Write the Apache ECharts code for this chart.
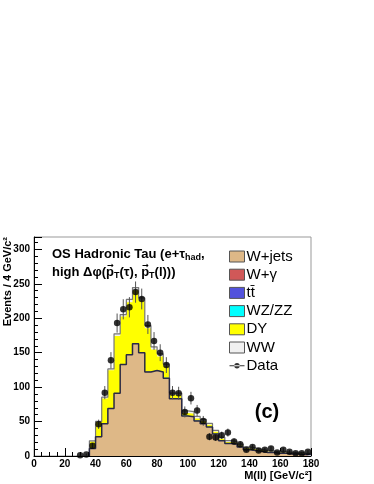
<!DOCTYPE html>
<html>
<head>
<meta charset="utf-8">
<script src="https://cdn.jsdelivr.net/npm/echarts@6/dist/echarts.min.js"></script>
<style>
html, body { margin: 0; padding: 0; background: #fff; }
#chart { width: 374px; height: 484px; }
</style>
</head>
<body>
<div id="chart"></div>
<script>
// histogram bins: left edges, 4 GeV wide
var binWidth = 4;
var binEdges = [36, 40, 44, 48, 52, 56, 60, 64, 68, 72, 76, 80, 84, 88, 92, 96, 100, 104, 108, 112,
	116, 120, 124, 128, 132, 136, 140, 144, 148, 152, 156, 160, 164, 168, 172, 176];

// MC components (events per bin)
var wjets = [11, 28, 47, 69, 91, 133, 147, 163, 150, 122, 124, 122, 113, 83, 83, 58, 57, 51, 47, 42,
	32, 22, 18, 17, 13, 9, 8, 7, 5, 5, 4, 4, 3, 3, 2, 2];
var wgamma = [0.1, 0.1, 0.2, 0.2, 0.2, 0.2, 0.2, 0.2, 0.2, 0.2, 0.2, 0.2, 0.2, 0.1, 0.1, 0.1, 0.1, 0.1, 0.1, 0.1,
	0.1, 0.1, 0.1, 0.1, 0.1, 0.1, 0.1, 0.1, 0.1, 0.1, 0.1, 0.1, 0.1, 0.1, 0.1, 0.1];
var ttbar = [0, 0.1, 0.1, 0.1, 0.1, 0.1, 0.1, 0.2, 0.2, 0.2, 0.2, 0.2, 0.2, 0.2, 0.2, 0.2, 0.2, 0.2, 0.1, 0.1,
	0.1, 0.1, 0.1, 0.1, 0.1, 0.1, 0.1, 0.1, 0.1, 0.1, 0.1, 0.1, 0.1, 0.1, 0.1, 0.1];
var wzzz = [0, 0, 0.1, 0.1, 0.1, 0.1, 0.1, 0.1, 0.1, 0.1, 0.1, 0.1, 0.1, 0.1, 0.1, 0.1, 0.1, 0.1, 0.1, 0.1,
	0, 0, 0, 0, 0, 0, 0, 0, 0, 0, 0, 0, 0, 0, 0, 0];
var dy = [10, 21, 36, 55, 83, 69, 76, 77, 75, 63, 30, 22, 17, 5, 5, 4, 4, 3, 3, 3,
	3, 3, 2, 2, 2, 2, 1.5, 1.5, 1.5, 1, 1, 1, 1, 1, 1, 0.5];
var ww = [1, 1, 2, 2, 3, 3, 4, 4, 4, 4, 4, 4, 3, 3, 3, 3, 3, 3, 3, 2,
	2, 2, 2, 2, 2, 2, 2, 1, 1, 1, 1, 1, 1, 1, 1, 1];

// data points (bin centres)
var dataX = [30, 34, 38, 42, 46, 50, 54, 58, 62, 66, 70, 74, 78, 82, 86, 90, 94, 98, 102, 106,
	110, 114, 118, 122, 126, 130, 134, 138, 142, 146, 150, 154, 158, 162, 166, 170, 174, 178];
var dataY = [1, 2, 15, 46, 92, 139, 193, 213, 216, 238, 228, 191, 167, 150, 132, 92, 91, 64, 84, 66,
	51, 28, 27, 30, 34, 21, 17, 9, 13, 8, 9, 11, 5, 9, 6, 4, 4, 6];

var xTicks = [0, 20, 40, 60, 80, 100, 120, 140, 160, 180];
var yTicks = [0, 50, 100, 150, 200, 250, 300];

var FONT = 'Liberation Sans';

// stack the components the way ROOT's THStack does
function addUp(parts) {
	var out = [];
	for (var i = 0; i < binEdges.length; i++) {
		var s = 0;
		for (var k = 0; k < parts.length; k++) s += parts[k][i];
		out.push(s);
	}
	return out;
}
function steps(vals) {
	var pts = [[binEdges[0], 0]];
	for (var i = 0; i < vals.length; i++) pts.push([binEdges[i], vals[i]]);
	pts.push([binEdges[vals.length - 1] + binWidth, vals[vals.length - 1]]);
	return pts;
}
function histSeries(name, vals, fill, line, lw) {
	return {
		name: name,
		type: 'line',
		step: 'end',
		symbol: 'none',
		color: fill,
		data: steps(vals),
		lineStyle: { color: line, width: lw },
		areaStyle: { color: fill, opacity: 1, origin: 'start' },
		silent: true
	};
}

var cumW = wjets;
var cumWg = addUp([wjets, wgamma]);
var cumTt = addUp([wjets, wgamma, ttbar]);
var cumWz = addUp([wjets, wgamma, ttbar, wzzz]);
var cumDy = addUp([wjets, wgamma, ttbar, wzzz, dy]);
var cumWw = addUp([wjets, wgamma, ttbar, wzzz, dy, ww]);

var points = [];
for (var i = 0; i < dataX.length; i++) points.push([dataX[i], dataY[i]]);

// where the two "p" of the second title line sit, for the vector arrows
var ctx = document.createElement('canvas').getContext('2d');
function w(t, size) {
	ctx.font = 'bold ' + size + 'px "' + FONT + '"';
	return ctx.measureText(t).width;
}
var TS = 13, SS = 9;
var t2x = 52;
var p1x = t2x + w('high Δφ(', TS);
var p2x = p1x + w('p', TS) + w('T', SS) + w('(τ), ', TS);
var pw = w('p', TS);

var myChart = echarts.init(document.getElementById('chart'));
myChart.setOption({
	animation: false,
	grid: { left: 34, right: 63, top: 237, bottom: 28, show: true, borderColor: '#999', borderWidth: 1 },
	xAxis: {
		type: 'value', min: 0, max: 180, interval: 20,
		axisLine: { show: true, onZero: false, lineStyle: { color: '#000', width: 1 } },
		axisTick: { show: true, inside: true, length: 8, lineStyle: { color: '#000' } },
		minorTick: { show: true, splitNumber: 4, length: 4, lineStyle: { color: '#000' } },
		splitLine: { show: false },
		axisLabel: {
			fontFamily: FONT, fontWeight: 'bold', fontSize: 10, color: '#000', margin: 3,
			formatter: function (v) { return xTicks.indexOf(v) >= 0 ? String(v) : ''; }
		}
	},
	yAxis: [{
		type: 'value', min: 0, max: 318, interval: 50,
		axisLine: { show: true, lineStyle: { color: '#000', width: 1 } },
		axisTick: { show: true, inside: true, length: 8, lineStyle: { color: '#000' } },
		splitLine: { show: false },
		axisLabel: {
			fontFamily: FONT, fontWeight: 'bold', fontSize: 10, color: '#000', margin: 4,
			formatter: function (v) { return yTicks.indexOf(v) >= 0 ? String(v) : ''; }
		}
	}, {
		// minor ticks every 10 events
		type: 'value', min: 0, max: 318, interval: 10, position: 'left',
		axisLine: { show: false },
		axisTick: { show: true, inside: true, length: 4, lineStyle: { color: '#000' } },
		axisLabel: { show: false },
		splitLine: { show: false }
	}],
	legend: {
		orient: 'vertical', left: 224, top: 244,
		itemWidth: 15, itemHeight: 11, itemGap: 3.2,
		textStyle: { fontFamily: FONT, fontSize: 15, color: '#000', padding: [0, 0, 0, -3] },
		selectedMode: false,
		data: [
			{ name: 'W+jets', icon: 'rect', itemStyle: { color: '#deb887', borderColor: '#555', borderWidth: 1 } },
			{ name: 'W+γ', icon: 'rect', itemStyle: { color: '#d05858', borderColor: '#555', borderWidth: 1 } },
			{ name: 't\u0074\u0304', icon: 'rect', itemStyle: { color: '#5252dc', borderColor: '#555', borderWidth: 1 } },
			{ name: 'WZ/ZZ', icon: 'rect', itemStyle: { color: '#00ffff', borderColor: '#555', borderWidth: 1 } },
			{ name: 'DY', icon: 'rect', itemStyle: { color: '#ffff00', borderColor: '#555', borderWidth: 1 } },
			{ name: 'WW', icon: 'rect', itemStyle: { color: '#f0f0f0', borderColor: '#555', borderWidth: 1 } },
			{ name: 'Data', icon: 'path://M0,5h15v1h-15z M4.8,5.5a2.7,2.7 0 1,0 5.4,0a2.7,2.7 0 1,0 -5.4,0z', itemStyle: { color: '#000' } }
		]
	},
	graphic: [
		{
			type: 'text', left: 52, top: 248,
			style: {
				text: '{b|OS Hadronic Tau (e+τ}{s|had}{b|,}',
				rich: {
					b: { fontFamily: FONT, fontWeight: 'bold', fontSize: TS, lineHeight: 16, fill: '#000' },
					s: { fontFamily: FONT, fontWeight: 'bold', fontSize: SS, lineHeight: 10, verticalAlign: 'bottom', fill: '#000' }
				}
			}
		},
		{
			type: 'text', left: t2x, top: 266,
			style: {
				text: '{b|high Δφ(p}{s|T}{b|(τ), p}{s|T}{b|(l)))}',
				rich: {
					b: { fontFamily: FONT, fontWeight: 'bold', fontSize: TS, lineHeight: 15, fill: '#000' },
					s: { fontFamily: FONT, fontWeight: 'bold', fontSize: SS, lineHeight: 9, verticalAlign: 'bottom', fill: '#000' }
				}
			}
		},
		{
			type: 'text', x: p1x + pw / 2 + 0.5, y: 265.5,
			style: { text: '→', fontFamily: 'DejaVu Sans', fontWeight: 'bold', fontSize: 8, fill: '#000', align: 'center', verticalAlign: 'middle' }
		},
		{
			type: 'text', x: p2x + pw / 2 + 0.5, y: 265.5,
			style: { text: '→', fontFamily: 'DejaVu Sans', fontWeight: 'bold', fontSize: 8, fill: '#000', align: 'center', verticalAlign: 'middle' }
		},
		{
			type: 'text', x: 267, y: 412,
			style: { text: '(c)', fontFamily: FONT, fontWeight: 'bold', fontSize: 20, fill: '#000', align: 'center', verticalAlign: 'middle' }
		},
		{
			type: 'text', x: 8, y: 237, rotation: Math.PI / 2,
			style: { text: 'Events / 4 GeV/c²', fontFamily: FONT, fontWeight: 'bold', fontSize: 11, fill: '#000', align: 'right', verticalAlign: 'middle' }
		},
		{
			type: 'text', x: 312, y: 476,
			style: { text: 'M(ll) [GeV/c²]', fontFamily: FONT, fontWeight: 'bold', fontSize: 11, fill: '#000', align: 'right', verticalAlign: 'middle' }
		}
	],
	series: [
		histSeries('WW', cumWw, '#f0f0f0', '#777', 1.2),
		histSeries('DY', cumDy, '#ffff00', '#b0b000', 0),
		histSeries('WZ/ZZ', cumWz, '#00ffff', '#00ffff', 0),
		histSeries('t\u0074\u0304', cumTt, '#5252dc', '#5252dc', 0),
		histSeries('W+γ', cumWg, '#d05858', '#d05858', 0),
		histSeries('W+jets', cumW, '#deb887', '#2a2a44', 1.5),
		{
			name: 'Data err',
			type: 'custom',
			silent: true,
			data: points,
			renderItem: function (params, api) {
				var x = api.value(0), y = api.value(1);
				var e = Math.sqrt(y);
				var a = api.coord([x, y - e]);
				var b = api.coord([x, y + e]);
				return { type: 'line', shape: { x1: a[0], y1: a[1], x2: b[0], y2: b[1] }, style: { stroke: '#555', lineWidth: 1 } };
			},
			z: 5
		},
		{
			name: 'Data',
			type: 'scatter',
			data: points,
			symbol: 'circle',
			symbolSize: 6.5,
			itemStyle: { color: '#000' },
			z: 6
		}
	]
});
</script>
</body>
</html>
